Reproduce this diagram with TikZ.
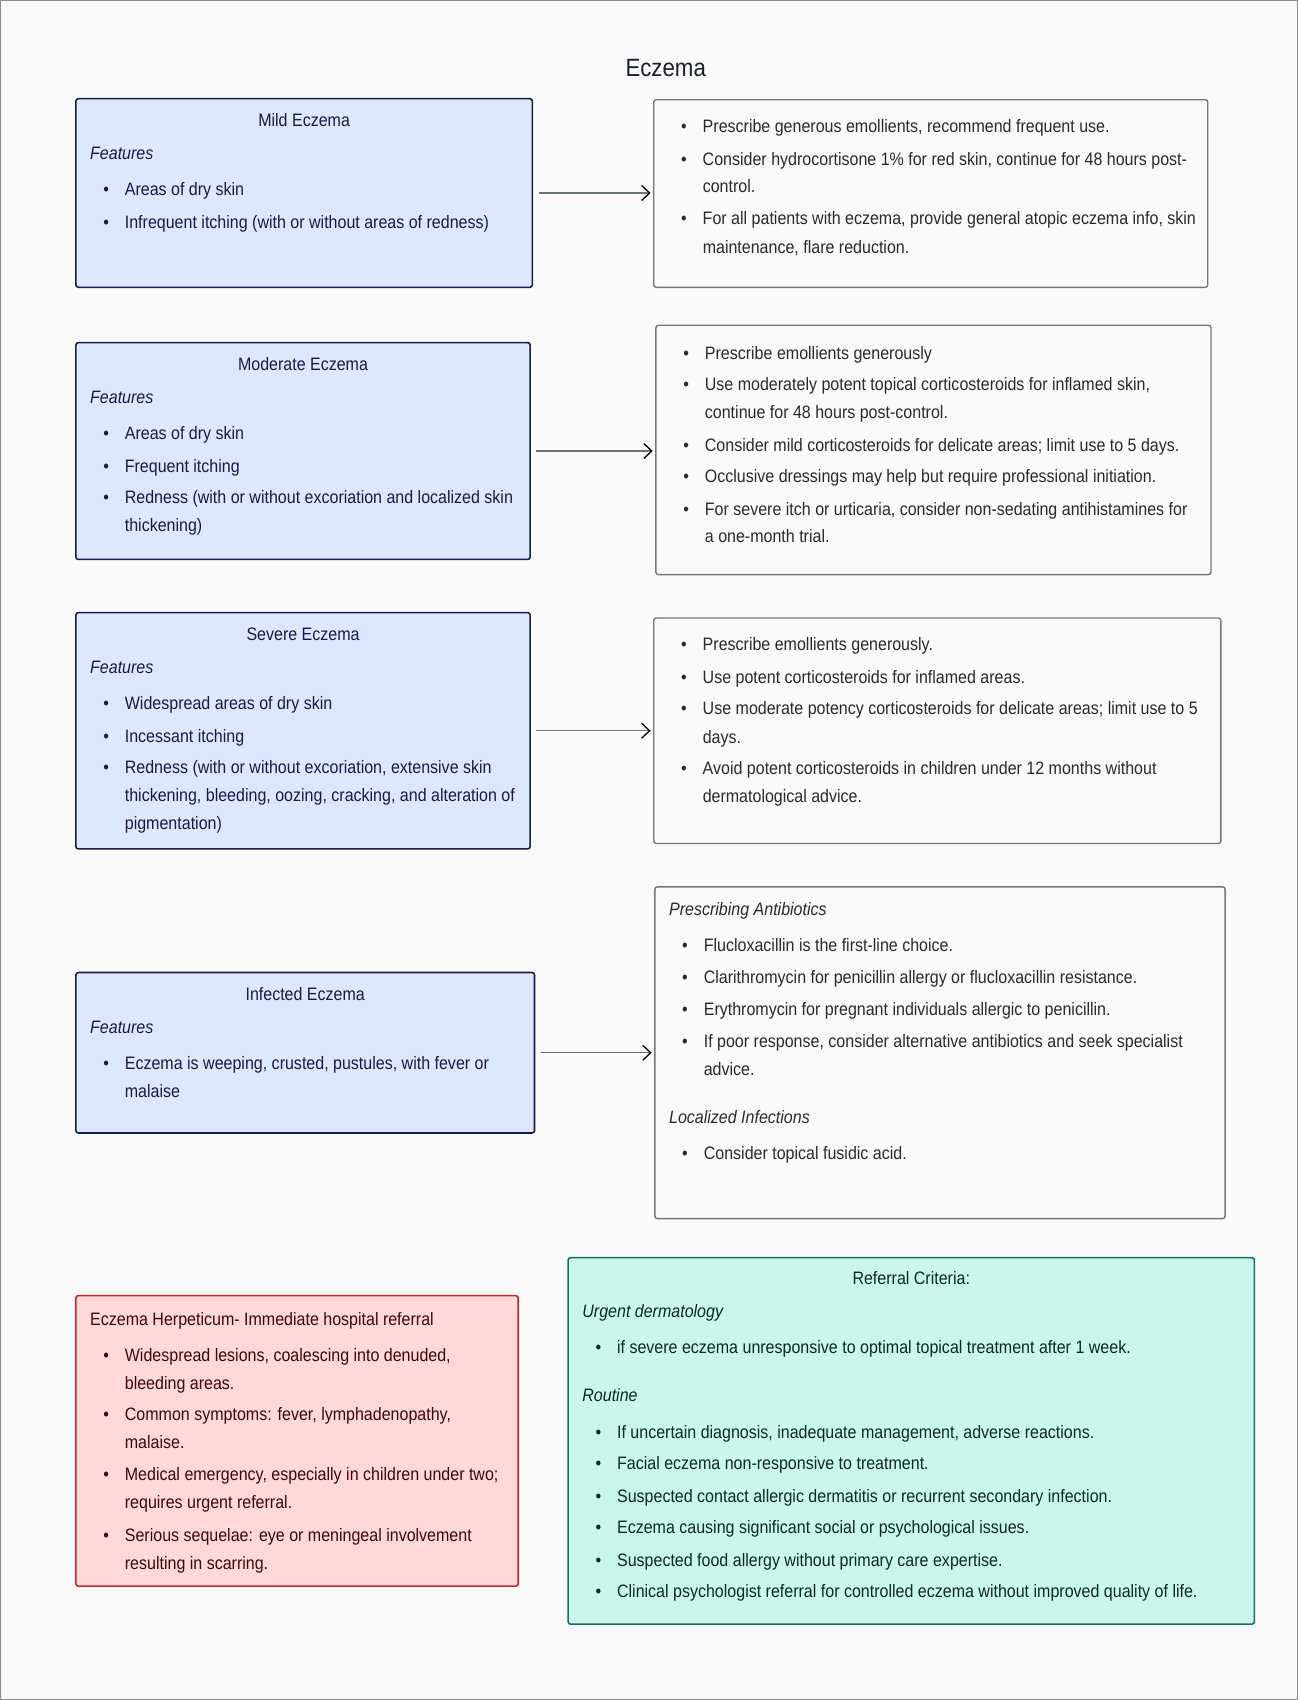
\documentclass[tikz,border=0pt]{standalone}
\usepackage{fontspec}
\setmainfont{Liberation Sans}[FakeStretch=0.89]
\usetikzlibrary{fit,arrows.meta}
\definecolor{bgc}{HTML}{FAFAFA}
\definecolor{framec}{HTML}{8A8A8A}
\definecolor{bluefill}{HTML}{DBE8FE}
\definecolor{bluedraw}{HTML}{1E1B4B}
\definecolor{bluetext}{HTML}{1A1A48}
\definecolor{grayfill}{HTML}{FAFAFA}
\definecolor{graydraw}{HTML}{767676}
\definecolor{graytext}{HTML}{2A2A2A}
\definecolor{redfill}{HTML}{FED9D7}
\definecolor{reddraw}{HTML}{C62828}
\definecolor{redtext}{HTML}{3F0808}
\definecolor{tealfill}{HTML}{C9F7EC}
\definecolor{tealdraw}{HTML}{137066}
\definecolor{tealtext}{HTML}{0B2A24}
\definecolor{titletext}{HTML}{1A1F2E}
\definecolor{arrowc}{HTML}{6F766F}
\newcount\tnum
\newcommand{\tl}[4][]{\global\advance\tnum by 1\relax
  \node[txt,#1] (txt\the\tnum) at (#2,#3) {#4};}
\newcommand{\bl}[4][]{\global\advance\tnum by 1\relax
  \node[txt,#1] (txt\the\tnum) at (#2,#3) {\llap{\textbullet\hskip 16pt}#4};}
\newcommand{\ttl}[4][]{\global\advance\tnum by 1\relax
  \node[txt,anchor=mid,#1] (txt\the\tnum) at (#2,#3) {#4};}
\tikzset{
  txt/.style={anchor=mid west, inner sep=0pt, font=\fontsize{18}{21}\selectfont},
  boxbase/.style={draw, rounded corners=2.5pt, line width=1.6pt, inner sep=0pt},
  bluebox/.style={boxbase, fill=bluefill, draw=bluedraw},
  graybox/.style={boxbase, fill=grayfill, draw=graydraw, line width=1.4pt},
  redbox/.style={boxbase, fill=redfill, draw=reddraw},
  tealbox/.style={boxbase, fill=tealfill, draw=tealdraw},
  arr/.style={draw=arrowc, line width=1.2pt, shorten <=5.4pt, shorten >=2.5pt,
    -{Straight Barb[length=8pt,width=15pt,line width=1.3pt,color=black]}},
}
\begin{document}
\begin{tikzpicture}[x=1.0844pt,y=-1.0844pt]
\useasboundingbox (0,0) rectangle (1197,1568);
\fill[bgc] (0,0) rectangle (1197,1568);
\draw[framec, line width=1.2pt] (0.6,0.6) rectangle (1196.4,1567.4);

\node[txt, anchor=mid, font=\fontsize{25}{28}\selectfont, text=titletext] (title) at (614,68) {Eczema};

% boxes
\node[bluebox, fit={(70,91) (491,265)}] (mild) {};
\node[graybox, fit={(603,92) (1114,265)}] (r1) {};
\node[bluebox, fit={(70,316) (489,516)}] (moderate) {};
\node[graybox, fit={(605,300) (1117,530)}] (r2) {};
\node[bluebox, fit={(70,565) (489,783)}] (severe) {};
\node[graybox, fit={(603,570) (1126,778)}] (r3) {};
\node[bluebox, fit={(70,897) (493,1045)}] (infected) {};
\node[graybox, fit={(604,818) (1130,1124)}] (r4) {};
\node[redbox, fit={(70,1195) (478,1463)}] (herpeticum) {};
\node[tealbox, fit={(524,1160) (1157,1498)}] (referral) {};

% arrows
\draw[arr] (mild.east) -- (mild.east -| r1.west);
\draw[arr] (moderate.east) -- (moderate.east -| r2.west);
\draw[arr] (severe.east) -- (severe.east -| r3.west);
\draw[arr] (infected.east) -- (infected.east -| r4.west);

\begin{scope}[yshift=-4.3pt]
% Mild
\begin{scope}[every node/.append style={text=bluetext}]
\ttl{280.5}{110}{Mild Eczema}
\tl{83}{141}{\itshape Features}
\bl{115}{174}{Areas of dry skin}
\bl{115}{204}{Infrequent itching (with or without areas of redness)}
% Moderate
\ttl{279.5}{335}{Moderate Eczema}
\tl{83}{366}{\itshape Features}
\bl{115}{399}{Areas of dry skin}
\bl{115}{429}{Frequent itching}
\bl{115}{458}{Redness (with or without excoriation and localized skin}
\tl{115}{484}{thickening)}
% Severe
\ttl{279.5}{584}{Severe Eczema}
\tl{83}{615}{\itshape Features}
\bl{115}{648}{Widespread areas of dry skin}
\bl{115}{678}{Incessant itching}
\bl{115}{707}{Redness (with or without excoriation, extensive skin}
\tl{115}{733}{thickening, bleeding, oozing, cracking, and alteration of}
\tl{115}{759}{pigmentation)}
% Infected
\ttl{281.5}{916}{Infected Eczema}
\tl{83}{947}{\itshape Features}
\bl{115}{980}{Eczema is weeping, crusted, pustules, with fever or}
\tl{115}{1006}{malaise}
\end{scope}

\begin{scope}[every node/.append style={text=graytext}]
% R1
\bl{648}{116}{Prescribe generous emollients, recommend frequent use.}
\bl{648}{146}{Consider hydrocortisone 1\% for red skin, continue for 48 hours post-}
\tl{648}{171}{control.}
\bl{648}{201}{For all patients with eczema, provide general atopic eczema info, skin}
\tl{648}{227}{maintenance, flare reduction.}
% R2
\bl{650}{325}{Prescribe emollients generously}
\bl{650}{354}{Use moderately potent topical corticosteroids for inflamed skin,}
\tl{650}{380}{continue for 48 hours post-control.}
\bl{650}{410}{Consider mild corticosteroids for delicate areas; limit use to 5 days.}
\bl{650}{439}{Occlusive dressings may help but require professional initiation.}
\bl{650}{469}{For severe itch or urticaria, consider non-sedating antihistamines for}
\tl{650}{494}{a one-month trial.}
% R3
\bl{648}{594}{Prescribe emollients generously.}
\bl{648}{624}{Use potent corticosteroids for inflamed areas.}
\bl{648}{653}{Use moderate potency corticosteroids for delicate areas; limit use to 5}
\tl{648}{679}{days.}
\bl{648}{708}{Avoid potent corticosteroids in children under 12 months without}
\tl{648}{734}{dermatological advice.}
% R4
\tl{617}{838}{\itshape Prescribing Antibiotics}
\bl{649}{871}{Flucloxacillin is the first-line choice.}
\bl{649}{901}{Clarithromycin for penicillin allergy or flucloxacillin resistance.}
\bl{649}{930}{Erythromycin for pregnant individuals allergic to penicillin.}
\bl{649}{960}{If poor response, consider alternative antibiotics and seek specialist}
\tl{649}{986}{advice.}
\tl{617}{1030}{\itshape Localized Infections}
\bl{649}{1063}{Consider topical fusidic acid.}
\end{scope}

\begin{scope}[every node/.append style={text=redtext}]
\tl{83}{1216}{Eczema Herpeticum- Immediate hospital referral}
\bl{115}{1249}{Widespread lesions, coalescing into denuded,}
\tl{115}{1275}{bleeding areas.}
\bl{115}{1304}{Common symptoms: fever, lymphadenopathy,}
\tl{115}{1330}{malaise.}
\bl{115}{1359}{Medical emergency, especially in children under two;}
\tl{115}{1385}{requires urgent referral.}
\bl{115}{1415}{Serious sequelae: eye or meningeal involvement}
\tl{115}{1441}{resulting in scarring.}
\end{scope}

\begin{scope}[every node/.append style={text=tealtext}]
\ttl{840.5}{1178}{Referral Criteria:}
\tl{537}{1209}{\itshape Urgent dermatology}
\bl{569}{1242}{if severe eczema unresponsive to optimal topical treatment after 1 week.}
\tl{537}{1286}{\itshape Routine}
\bl{569}{1320}{If uncertain diagnosis, inadequate management, adverse reactions.}
\bl{569}{1349}{Facial eczema non-responsive to treatment.}
\bl{569}{1379}{Suspected contact allergic dermatitis or recurrent secondary infection.}
\bl{569}{1408}{Eczema causing significant social or psychological issues.}
\bl{569}{1438}{Suspected food allergy without primary care expertise.}
\bl{569}{1467}{Clinical psychologist referral for controlled eczema without improved quality of life.}
\end{scope}
\end{scope}
\end{tikzpicture}
\end{document}
